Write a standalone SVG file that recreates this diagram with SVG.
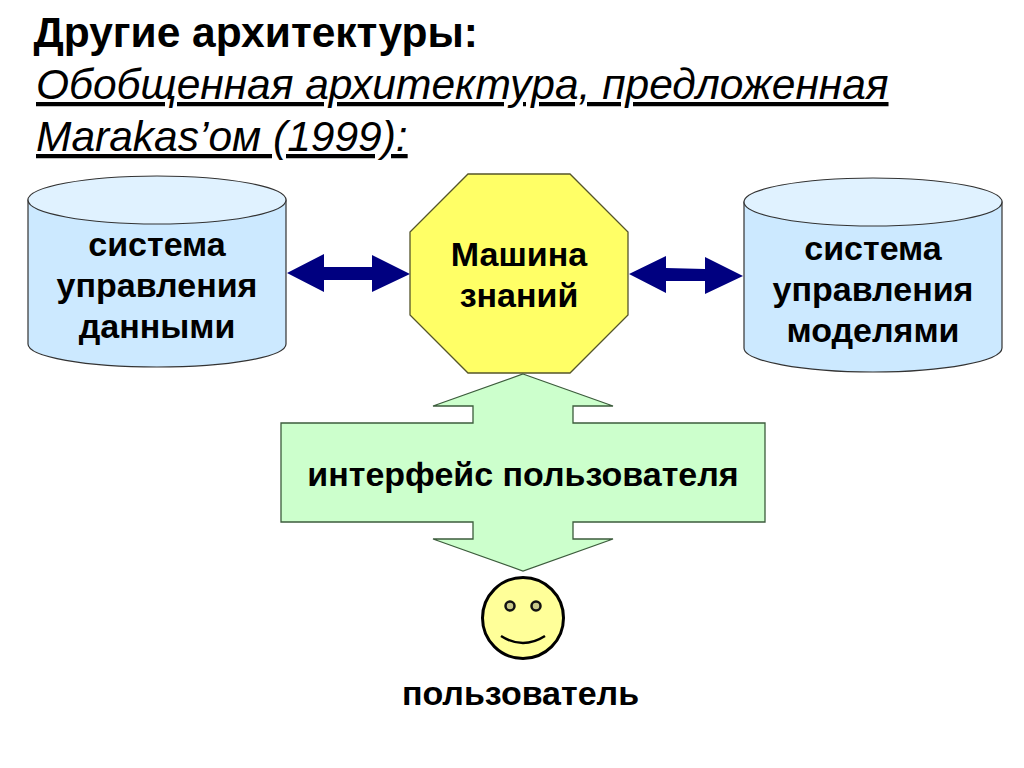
<svg xmlns="http://www.w3.org/2000/svg" width="1024" height="768" viewBox="0 0 1024 768">
<defs>
<style>
text{font-family:"Liberation Sans",Arial,sans-serif;fill:#000}
.h{font-size:42.5px;font-weight:bold}
.i{font-size:42.5px;font-style:italic;text-decoration:underline;text-decoration-thickness:3.5px}
.l{font-size:34px;font-weight:bold;text-anchor:middle}
.cyl{fill:#cce9ff;stroke:#333;stroke-width:1.2}
.top{fill:#e0f2ff;stroke:#333;stroke-width:1.2}
.arr{fill:#000080}
.g{fill:#ccffcc;stroke:#3c5c3c;stroke-width:1.3}
.eye{fill:#c8c88a;stroke:#111;stroke-width:2.5}
</style>
</defs>
<rect width="1024" height="768" fill="#fff"/>
<g id="title">
<text class="h" x="33.5" y="47">Другие архитектуры:</text>
<text class="i" x="36" y="99">Обобщенная архитектура, предложенная</text>
<text class="i" x="36" y="151">Marakas’ом (1999):</text>
</g>
<g id="connectors">
<polygon class="arr" points="287,273 324,254 324,267 372,267 372,255 410,274 372,292 372,280 324,280 324,292"/>
<polygon class="arr" points="629,274 666,256 666,268 705,269 705,257 743,276 705,294 705,281 666,281 666,293"/>
</g>
<g id="node-data">
<path class="cyl" d="M28,200V344C28,357 86,367 157,367C228,367 286,357 286,344V200Z"/>
<ellipse class="top" cx="157" cy="200" rx="129" ry="24"/>
<text class="l" x="157" y="256">система</text>
<text class="l" x="157" y="297">управления</text>
<text class="l" x="157" y="338">данными</text>
</g>
<g id="node-models">
<path class="cyl" d="M744,202V348C744,361 802,372 873,372C944,372 1002,361 1002,348V202Z"/>
<ellipse class="top" cx="873" cy="202" rx="129" ry="24"/>
<text class="l" x="873" y="260">система</text>
<text class="l" x="873" y="301">управления</text>
<text class="l" x="873" y="342">моделями</text>
</g>
<g id="node-engine">
<polygon points="468,174 570,174 628,232 628,315 570,373 468,373 410,315 410,232" fill="#ffff66" stroke="#55552a" stroke-width="1.3"/>
<text class="l" x="519" y="266">Машина</text>
<text class="l" x="519" y="307">знаний</text>
</g>
<g id="node-interface">
<polygon class="g" points="523,374 613,406 573,406 573,423 765,423 765,522 573,522 573,539 613,539 523,571 433,539 473,539 473,522 281,522 281,423 473,423 473,406 433,406"/>
<text class="l" x="523" y="486">интерфейс пользователя</text>
</g>
<g id="node-user">
<circle cx="523" cy="618" r="40.5" fill="#ffff99" stroke="#000" stroke-width="3"/>
<circle class="eye" cx="510" cy="606" r="4.5"/>
<circle class="eye" cx="536" cy="606" r="4.5"/>
<path d="M501,636Q523,650 545,636" fill="none" stroke="#000" stroke-width="2.5"/>
<text class="l" x="520.5" y="705">пользователь</text>
</g>
</svg>
